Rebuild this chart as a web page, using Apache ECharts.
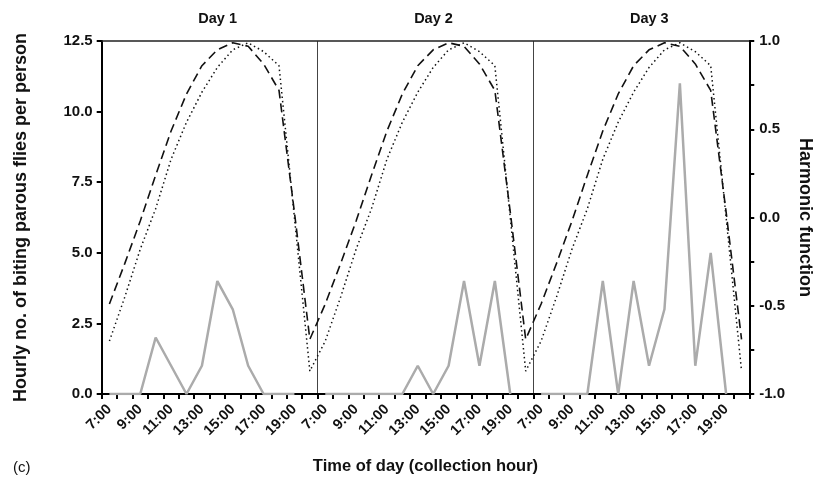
<!DOCTYPE html>
<html>
<head>
<meta charset="utf-8">
<script src="https://cdn.jsdelivr.net/npm/echarts@6/dist/echarts.min.js"></script>
<style>html,body{margin:0;padding:0;background:#fff}#c{width:822px;height:487px}</style>
</head>
<body>
<div id="c"></div>
<script>
// ---- data ----
const days = ['Day 1', 'Day 2', 'Day 3'];
const hoursPerDay = ['7:00','8:00','9:00','10:00','11:00','12:00','13:00','14:00','15:00','16:00','17:00','18:00','19:00','20:00'];
const bitesDay1 = [0, 0, 0, 2, 1, 0, 1, 4, 3, 1, 0, 0, 0, null];
const bitesDay2 = [0, 0, 0, 0, 0, 0, 1, 0, 1, 4, 1, 4, 0, null];
const bitesDay3 = [0, 0, 0, 0, 4, 0, 4, 1, 3, 11, 1, 5, 0, null];
const harmonicDashedDay = [-0.49, -0.26, -0.02, 0.24, 0.49, 0.70, 0.86, 0.95, 0.99, 0.97, 0.87, 0.72, 0.03, -0.69];
const harmonicDottedDay = [-0.70, -0.45, -0.18, 0.05, 0.33, 0.54, 0.71, 0.85, 0.95, 0.99, 0.94, 0.86, 0.00, -0.87];
const leftTicks = [0, 2.5, 5, 7.5, 10, 12.5];
const rightTicks = [-1, -0.5, 0, 0.5, 1];

// ---- build ----
const categories = [];
days.forEach((d, k) => hoursPerDay.forEach(h => categories.push(k + '|' + h)));
const bites = bitesDay1.concat(bitesDay2, bitesDay3);
const dashed = harmonicDashedDay.concat(harmonicDashedDay, harmonicDashedDay);
const dotted = harmonicDottedDay.concat(harmonicDottedDay, harmonicDottedDay);

const FONT = '"Liberation Sans", Arial, Helvetica, sans-serif';
const ink = '#111';

const chart = echarts.init(document.getElementById('c'), null, {renderer: 'canvas'});
chart.setOption({
  animation: false,
  backgroundColor: '#fff',
  textStyle: {fontFamily: FONT},
  title: {
    text: '(c)', left: 8, top: 455,
    textStyle: {fontFamily: FONT, fontSize: 15, fontWeight: 'normal', color: ink}
  },
  grid: {left: 101.7, right: 64, top: 41, bottom: 93, containLabel: false},
  xAxis: [
    {
      type: 'category',
      data: categories,
      boundaryGap: true,
      position: 'bottom',
      axisLine: {onZero: false, lineStyle: {color: '#000', width: 2}},
      axisTick: {show: true, interval: 0, length: 5, lineStyle: {color: '#000', width: 2}},
      axisLabel: {
        interval: 1, rotate: 45, margin: 13,
        fontFamily: FONT, fontSize: 14.5, fontWeight: 'bold', color: ink,
        formatter: v => v.split('|')[1]
      },
      splitLine: {show: false},
      name: 'Time of day (collection hour)',
      nameLocation: 'middle', nameGap: 64,
      nameTextStyle: {fontFamily: FONT, fontSize: 16.5, fontWeight: 'bold', color: ink}
    },
    {
      type: 'category',
      data: days,
      boundaryGap: true,
      position: 'top',
      axisLine: {onZero: false, lineStyle: {color: '#222', width: 1.5}},
      axisTick: {show: false},
      axisLabel: {
        margin: 15, padding: [0, 0, 0, 16],
        fontFamily: FONT, fontSize: 14.5, fontWeight: 'bold', color: ink
      },
      splitLine: {show: true, lineStyle: {color: '#444', width: 1}}
    }
  ],
  yAxis: [
    {
      type: 'value', min: leftTicks[0], max: leftTicks[leftTicks.length - 1], interval: 2.5,
      position: 'left',
      axisLine: {show: true, onZero: false, lineStyle: {color: '#000', width: 2}},
      axisTick: {show: true, length: 5, lineStyle: {color: '#000', width: 2}},
      axisLabel: {
        margin: 9, fontFamily: FONT, fontSize: 15, fontWeight: 'bold', color: ink,
        formatter: v => v.toFixed(1)
      },
      splitLine: {show: false},
      name: 'Hourly no. of biting parous flies per person',
      nameLocation: 'middle', nameGap: 72,
      nameTextStyle: {fontFamily: FONT, fontSize: 18, fontWeight: 'bold', color: ink}
    },
    {
      type: 'value', min: rightTicks[0], max: rightTicks[rightTicks.length - 1], interval: 0.25,
      position: 'right',
      axisLine: {show: true, onZero: false, lineStyle: {color: '#000', width: 2}},
      axisTick: {show: true, length: 5, lineStyle: {color: '#000', width: 2}},
      axisLabel: {
        margin: 10, fontFamily: FONT, fontSize: 15, fontWeight: 'bold', color: ink,
        formatter: v => (rightTicks.some(t => Math.abs(t - v) < 1e-9) ? v.toFixed(1) : '')
      },
      splitLine: {show: false},
      name: 'Harmonic function',
      nameLocation: 'middle', nameGap: 45, nameRotate: -90,
      nameTextStyle: {fontFamily: FONT, fontSize: 18, fontWeight: 'bold', color: ink}
    }
  ],
  series: [
    {
      name: 'bites', type: 'line', xAxisIndex: 0, yAxisIndex: 0,
      data: bites, symbol: 'none', connectNulls: false,
      lineStyle: {color: '#ababab', width: 2.5}, z: 3
    },
    {
      name: 'harmonic dashed', type: 'line', xAxisIndex: 0, yAxisIndex: 1,
      data: dashed, symbol: 'none',
      lineStyle: {color: '#111', width: 1.6, type: [9, 5]}, z: 4
    },
    {
      name: 'harmonic dotted', type: 'line', xAxisIndex: 0, yAxisIndex: 1,
      data: dotted, symbol: 'none',
      lineStyle: {color: '#111', width: 1.5, type: [1.5, 3]}, z: 4
    }
  ]
});
</script>
</body>
</html>
